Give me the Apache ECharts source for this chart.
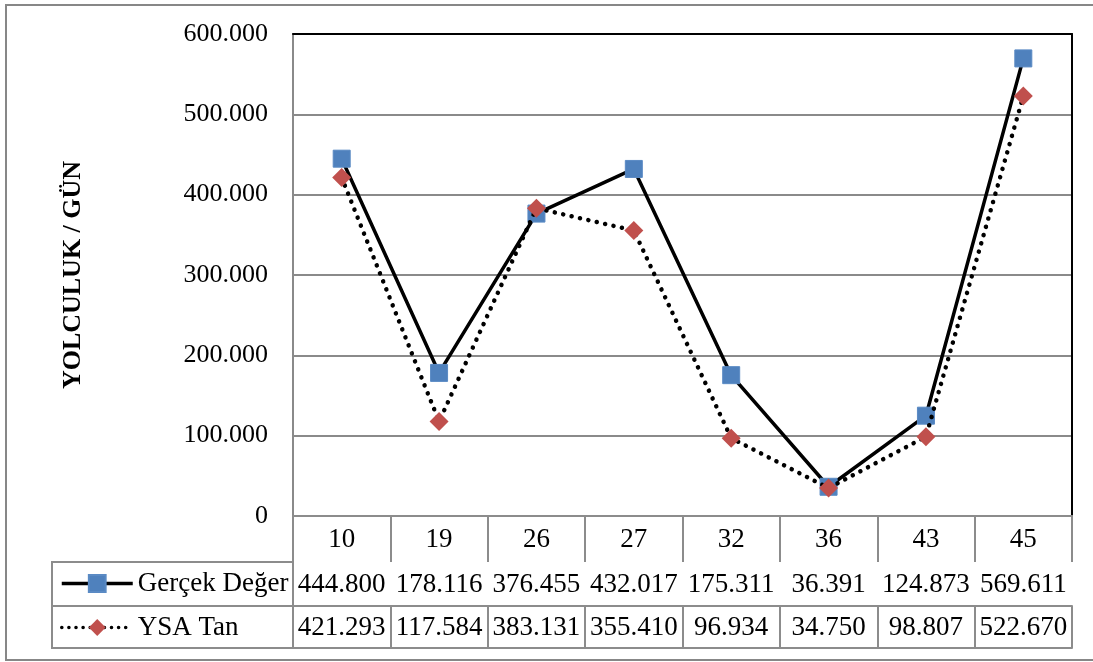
<!DOCTYPE html>
<html>
<head>
<meta charset="utf-8">
<script src="https://cdn.jsdelivr.net/npm/echarts@6/dist/echarts.min.js"></script>
<style>
  html, body { margin: 0; padding: 0; background: #fff; }
  #chart { width: 1093px; height: 662px; }
</style>
</head>
<body>
<div id="chart"></div>
<script>
// Stations and daily trip counts
const categories = ['10', '19', '26', '27', '32', '36', '43', '45'];
const gercekDeger = [444800, 178116, 376455, 432017, 175311, 36391, 124873, 569611];
const ysaTan = [421293, 117584, 383131, 355410, 96934, 34750, 98807, 522670];
const seriesNames = ['Gerçek Değer', 'YSA Tan'];
const yTitle = 'YOLCULUK / GÜN';

// Turkish style thousands separator
function fmt(v) {
  return String(v).replace(/\B(?=(\d{3})+(?!\d))/g, '.');
}

const FONT = 'Liberation Serif';
const GRID_GREY = '#8a8a8a';
const TABLE_GREY = '#8c8c8c';

const solidLine = { color: '#000', width: 3.5 };
const dottedLine = { color: '#000', width: 4.5, type: [0.1, 8.5], cap: 'round' };

const chart = echarts.init(document.getElementById('chart'), null, { renderer: 'canvas' });

// Helper for the data table rows under the plot (each row is a bottom x axis)
function tableRow(labels, offset, tickLen, margin) {
  return {
    type: 'category',
    position: 'bottom',
    offset: offset,
    data: labels,
    boundaryGap: true,
    gridIndex: 0,
    axisLine: { show: true, lineStyle: { color: TABLE_GREY, width: 2 } },
    axisTick: { show: tickLen > 0, length: tickLen, alignWithLabel: false, lineStyle: { color: TABLE_GREY, width: 2 } },
    axisLabel: { show: labels.some(s => s !== ''), fontFamily: FONT, fontSize: 27, color: '#000', margin: margin, interval: 0 },
    splitLine: { show: false }
  };
}

const option = {
  animation: false,
  backgroundColor: '#fff',
  textStyle: { fontFamily: FONT },
  grid: { left: 293, right: 21, top: 34, bottom: 146, containLabel: false },
  legend: {
    orient: 'vertical',
    left: 60,
    top: 570,
    padding: 0,
    itemGap: 17,
    itemWidth: 71,
    itemHeight: 21,
    selectedMode: false,
    textStyle: { fontFamily: FONT, fontSize: 27, color: '#000', lineHeight: 27 },
    data: [
      { name: seriesNames[0], lineStyle: { color: '#000', width: 3.5 } },
      { name: seriesNames[1], lineStyle: { color: '#000', width: 3.5, type: [0.1, 7], cap: 'round' } }
    ]
  },
  xAxis: [
    tableRow(categories, 0, 46, 10),
    tableRow(gercekDeger.map(fmt), 46, 44, 9),
    tableRow(ysaTan.map(fmt), 90, 42, 8),
    tableRow(categories.map(() => ''), 132, 0, 0),
    {
      // top edge of the plot frame
      type: 'category',
      position: 'top',
      data: categories,
      axisLine: { show: true, lineStyle: { color: '#000', width: 2 } },
      axisTick: { show: false },
      axisLabel: { show: false },
      splitLine: { show: false }
    }
  ],
  yAxis: [
    {
      type: 'value',
      min: 0,
      max: 600000,
      interval: 100000,
      name: yTitle,
      nameLocation: 'middle',
      nameRotate: 90,
      nameGap: 207,
      nameTextStyle: { fontFamily: FONT, fontSize: 26, fontWeight: 'bold', color: '#000' },
      axisLine: { show: true, lineStyle: { color: GRID_GREY, width: 2 } },
      axisTick: { show: false },
      axisLabel: { fontFamily: FONT, fontSize: 26, color: '#000', margin: 25, formatter: fmt },
      splitLine: { show: true, lineStyle: { color: GRID_GREY, width: 2 } }
    },
    {
      // right edge of the plot frame
      type: 'value',
      position: 'right',
      min: 0,
      max: 600000,
      interval: 100000,
      axisLine: { show: true, lineStyle: { color: '#000', width: 2 } },
      axisTick: { show: false },
      axisLabel: { show: false },
      splitLine: { show: false }
    }
  ],
  series: [
    {
      name: seriesNames[0],
      type: 'line',
      xAxisIndex: 0,
      yAxisIndex: 0,
      data: gercekDeger,
      symbol: 'rect',
      symbolSize: 17,
      itemStyle: { color: '#4F81BD', borderColor: '#5a8ac4', borderWidth: 1 },
      lineStyle: solidLine,
      z: 3
    },
    {
      name: seriesNames[1],
      type: 'line',
      xAxisIndex: 0,
      yAxisIndex: 0,
      data: ysaTan,
      symbol: 'diamond',
      symbolSize: [19, 19],
      itemStyle: { color: '#C0504D' },
      lineStyle: dottedLine,
      z: 4
    }
  ],
  graphic: [
    {
      // outer frame of the chart
      type: 'rect',
      shape: { x: 6, y: 5, width: 1100, height: 655 },
      style: { fill: null, stroke: '#878787', lineWidth: 2 },
      silent: true
    },
    {
      // legend key cells of the data table
      type: 'rect',
      shape: { x: 52, y: 562, width: 241, height: 86 },
      style: { fill: null, stroke: TABLE_GREY, lineWidth: 2 },
      silent: true
    },
    {
      type: 'line',
      shape: { x1: 52, y1: 606, x2: 293, y2: 606 },
      style: { stroke: TABLE_GREY, lineWidth: 2 },
      silent: true
    }
  ]
};

chart.setOption(option);
</script>
</body>
</html>
